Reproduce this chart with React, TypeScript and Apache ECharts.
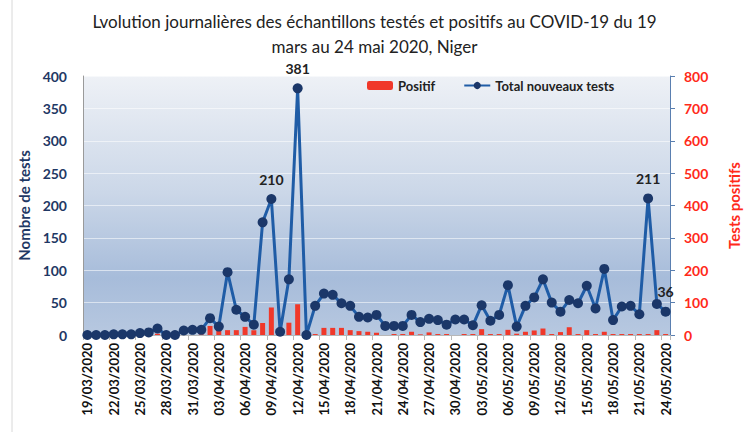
import React, { useEffect, useRef } from "react";
import * as echarts from "echarts";

const dates = [
  "19/03/2020", "20/03/2020", "21/03/2020", "22/03/2020", "23/03/2020", "24/03/2020", "25/03/2020",
  "26/03/2020", "27/03/2020", "28/03/2020", "29/03/2020", "30/03/2020", "31/03/2020",
  "01/04/2020", "02/04/2020", "03/04/2020", "04/04/2020", "05/04/2020", "06/04/2020", "07/04/2020",
  "08/04/2020", "09/04/2020", "10/04/2020", "11/04/2020", "12/04/2020", "13/04/2020", "14/04/2020",
  "15/04/2020", "16/04/2020", "17/04/2020", "18/04/2020", "19/04/2020", "20/04/2020", "21/04/2020",
  "22/04/2020", "23/04/2020", "24/04/2020", "25/04/2020", "26/04/2020", "27/04/2020", "28/04/2020",
  "29/04/2020", "30/04/2020", "01/05/2020", "02/05/2020", "03/05/2020", "04/05/2020", "05/05/2020",
  "06/05/2020", "07/05/2020", "08/05/2020", "09/05/2020", "10/05/2020", "11/05/2020", "12/05/2020",
  "13/05/2020", "14/05/2020", "15/05/2020", "16/05/2020", "17/05/2020", "18/05/2020", "19/05/2020",
  "20/05/2020", "21/05/2020", "22/05/2020", "23/05/2020", "24/05/2020",
];

const totalTests = [
  0, 0, 0, 1, 1, 1, 3, 4, 10, 0, 0, 7, 8,
  8, 26, 13, 97, 39, 28, 16, 174, 210, 5, 86, 381, 0, 45,
  64, 62, 49, 45, 28, 27, 31, 14, 14, 14, 31, 20, 25, 23,
  16, 24, 24, 15, 46, 22, 31, 77, 13, 45, 58, 86, 50, 36,
  54, 49, 76, 41, 102, 23, 44, 45, 32, 211, 48, 36,
];

const positives = [
  1, 0, 0, 0, 0, 0, 0, 0, 4, 0, 0, 0, 0,
  2, 28, 15, 15, 15, 25, 15, 37, 85, 10, 38, 95, 0, 3,
  22, 22, 22, 15, 12, 10, 7, 0, 3, 3, 10, 2, 8, 3,
  3, 0, 3, 3, 18, 3, 3, 16, 4, 10, 14, 20, 3, 9,
  24, 3, 15, 3, 10, 3, 3, 3, 3, 3, 15, 3,
];

const labeledDates = ["09/04/2020", "12/04/2020", "22/05/2020", "24/05/2020"];

const leftTicks = { min: 0, max: 400, interval: 50 };
const rightTicks = { min: 0, max: 800, interval: 100 };

const FONT = "Lato";

export default function App() {
  const ref = useRef<HTMLDivElement>(null);

  useEffect(() => {
    if (!ref.current) return;
    const chart = echarts.init(ref.current, null, { renderer: "svg" });

    const lineData = totalTests.map((v, i) =>
      labeledDates.includes(dates[i])
        ? {
            value: v,
            label: {
              show: true,
              position: "top",
              distance: 8,
              fontFamily: FONT,
              fontWeight: "bold",
              fontSize: 14,
              color: "#222",
            },
          }
        : v
    );

    chart.setOption({
      animation: false,
      backgroundColor: "#ffffff",
      title: {
        text: "Lvolution journalières des échantillons testés et positifs au COVID-19 du 19\nmars au 24 mai 2020, Niger",
        left: "center",
        top: 4,
        textStyle: {
          fontFamily: FONT,
          fontSize: 17,
          fontWeight: "normal",
          color: "#222",
          lineHeight: 25,
        },
      },
      legend: {
        top: 74,
        left: 362,
        itemWidth: 26,
        itemHeight: 9,
        itemGap: 28,
        textStyle: { fontFamily: FONT, fontWeight: "bold", fontSize: 13, color: "#222" },
        data: ["Positif", "Total nouveaux tests"],
      },
      graphic: [
        {
          type: "line",
          shape: { x1: 12, y1: 0, x2: 12, y2: 432 },
          style: { stroke: "#d8d8d8", lineWidth: 1 },
        },
      ],
      grid: {
        left: 83,
        right: 71,
        top: 76,
        bottom: 97,
        show: true,
        borderWidth: 0,
        backgroundColor: new echarts.graphic.LinearGradient(0, 0, 0, 1, [
          { offset: 0, color: "#eef1f6" },
          { offset: 0.45, color: "#cbd7e8" },
          { offset: 0.78, color: "#a7bcda" },
          { offset: 1, color: "#b7c8e0" },
        ]),
      },
      xAxis: {
        type: "category",
        data: dates,
        boundaryGap: true,
        axisLine: { show: true, lineStyle: { color: "#b8b8b8" } },
        axisTick: { show: true, interval: 2, length: 5, lineStyle: { color: "#b8b8b8" } },
        axisLabel: {
          interval: 2,
          rotate: 90,
          margin: 8,
          fontFamily: FONT,
          fontWeight: "bold",
          fontSize: 13,
          color: "#111",
        },
      },
      yAxis: [
        {
          type: "value",
          min: leftTicks.min,
          max: leftTicks.max,
          interval: leftTicks.interval,
          name: "Nombre de tests",
          nameLocation: "middle",
          nameGap: 52,
          nameRotate: 90,
          nameTextStyle: { fontFamily: FONT, fontWeight: "bold", fontSize: 15, color: "#1f3864" },
          axisLine: { show: true, lineStyle: { color: "#9a9a9a" } },
          axisTick: { show: false },
          axisLabel: { margin: 16, fontFamily: FONT, fontWeight: "bold", fontSize: 14, color: "#1f3864" },
          splitLine: { show: true, lineStyle: { color: "rgba(255,255,255,0.55)", width: 1 } },
        },
        {
          type: "value",
          position: "right",
          min: rightTicks.min,
          max: rightTicks.max,
          interval: rightTicks.interval,
          name: "Tests positifs",
          nameLocation: "middle",
          nameGap: 56,
          nameRotate: 90,
          nameTextStyle: { fontFamily: FONT, fontWeight: "bold", fontSize: 15, color: "#ff2a1a" },
          axisLine: { show: true, lineStyle: { color: "#5a7fb0" } },
          axisTick: { show: true, length: 5, lineStyle: { color: "#5a7fb0" } },
          axisLabel: { margin: 14, fontFamily: FONT, fontWeight: "bold", fontSize: 14, color: "#ff2a1a" },
          splitLine: { show: false },
        },
      ],
      series: [
        {
          name: "Positif",
          type: "bar",
          yAxisIndex: 1,
          data: positives,
          barWidth: 5,
          itemStyle: { color: "#f0382a" },
          z: 1,
        },
        {
          name: "Total nouveaux tests",
          type: "line",
          yAxisIndex: 0,
          data: lineData,
          symbol: "circle",
          symbolSize: 10,
          showAllSymbol: true,
          lineStyle: { color: "#1f5ca6", width: 3 },
          itemStyle: { color: "#1b3769" },
          z: 3,
        },
      ],
    });

    return () => chart.dispose();
  }, []);

  return (
    <div
      ref={ref}
      style={{ position: "absolute", left: 0, top: 0, width: 749, height: 432 }}
    />
  );
}
